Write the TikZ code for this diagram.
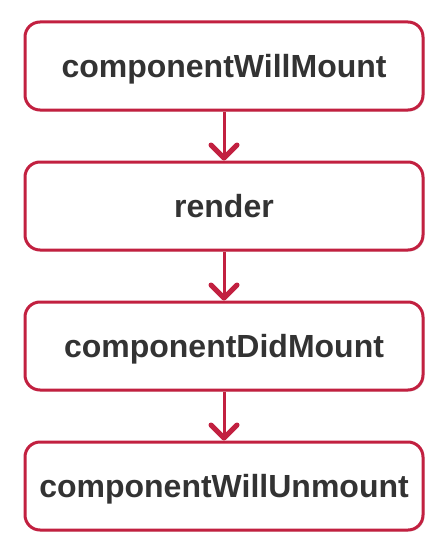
\documentclass[tikz,border=0pt]{standalone}
\usepackage{fontspec}
\setmainfont{Liberation Sans}
\usetikzlibrary{arrows.meta,shadows}
\definecolor{boxred}{RGB}{194,32,64}
\definecolor{txt}{RGB}{51,51,51}
\tikzset{
  stagebox/.style={draw=boxred, line width=3pt, rounded corners=15pt, fill=white,
    minimum width=398pt, minimum height=88pt, inner sep=0pt,
    drop shadow={shadow xshift=1.5pt, shadow yshift=-1.5pt, opacity=0.25, fill=black!40},
    font=\fontsize{32}{38}\selectfont\bfseries, text=txt},
  flow/.style={draw=boxred, line width=3pt,
    -{Straight Barb[length=13pt,width=26pt,line width=5pt,line cap=round,line join=round]}}
}
\begin{document}
\begin{tikzpicture}[x=1pt,y=-1pt]
\useasboundingbox (0,0) rectangle (432,543);
\node[stagebox] (a) at (224,66) {\raisebox{0pt}[\fontcharht\font`M][0pt]{componentWillMount}};
\node[stagebox] (b) at (224,206) {\raisebox{0pt}[\fontcharht\font`M][0pt]{render}};
\node[stagebox] (c) at (224,346) {\raisebox{0pt}[\fontcharht\font`M][0pt]{componentDidMount}};
\node[stagebox] (d) at (224,486) {\raisebox{0pt}[\fontcharht\font`M][0pt]{componentWillUnmount}};
\draw[flow] (a.south) -- (b.north);
\draw[flow] (b.south) -- (c.north);
\draw[flow] (c.south) -- (d.north);
\end{tikzpicture}
\end{document}
